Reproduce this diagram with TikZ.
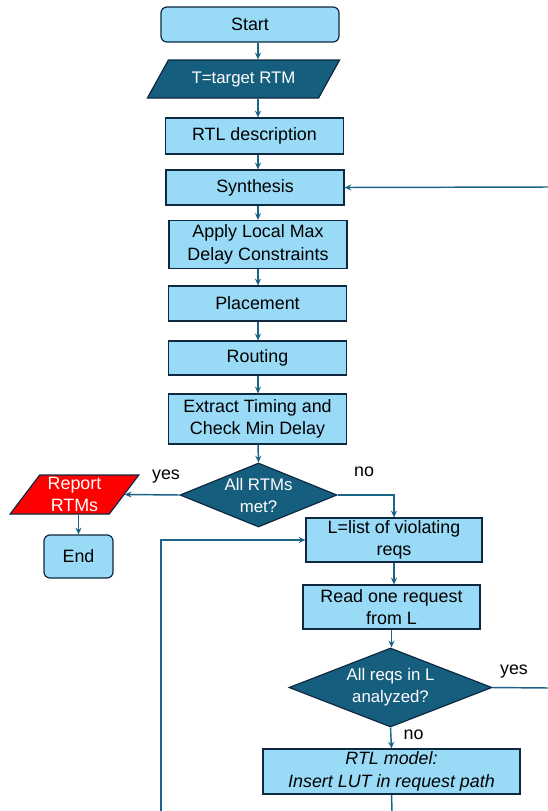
\documentclass[tikz,border=0pt]{standalone}
\usepackage{fontspec}
\setmainfont{Liberation Sans}
\usetikzlibrary{shapes.geometric,arrows.meta}
\definecolor{boxfill}{HTML}{99DAF7}
\definecolor{darkfill}{HTML}{165E7E}
\definecolor{boxline}{HTML}{0E2841}
\definecolor{flowline}{HTML}{1B6488}
\newcommand\pxu{0.75pt}

\begin{document}
\begin{tikzpicture}[x=0.75pt,y=-0.75pt,
    every node/.style={font=\fontsize{13.4}{17}\selectfont},
    box/.style={draw=boxline, line width=0.9pt, fill=boxfill, align=center, inner sep=0pt, minimum width=178*\pxu},
    term/.style={box, rounded corners=4.5pt},
    inout/.style={trapezium, trapezium stretches=true, draw=boxline, line width=0.9pt, align=center, inner sep=0pt},
    decide/.style={diamond, aspect=2.4, draw=boxline, line width=0.9pt, fill=darkfill, text=white, align=center, inner sep=0pt},
    flow/.style={draw=flowline, line width=1.1pt, -{Stealth[length=5pt,width=4.5pt]}},
    link/.style={draw=flowline, line width=1.1pt},
    lbl/.style={inner sep=0pt}]
  \useasboundingbox (0,0) rectangle (548,811); % page size of the reference

  \coordinate (col) at (258,0);
  \node[term, minimum height=35*\pxu] (start) at (250,24.5) {Start};
  \node[inout, fill=darkfill, text=white, trapezium left angle=46, trapezium right angle=134,
        minimum width=193*\pxu, minimum height=38*\pxu,
        font=\fontsize{12.6}{16}\selectfont] (tin) at (243.5,79) {T=target RTM};
  \node[box, minimum height=36*\pxu] (rtl) at (254.5,136) {RTL description};
  \node[box, minimum height=35*\pxu] (syn) at (255,187.5) {Synthesis};
  \node[box, minimum height=48*\pxu] (apply) at (258,244.5) {Apply Local Max\\Delay Constraints};
  \node[box, minimum height=35*\pxu] (place) at (257.5,303.5) {Placement};
  \node[box, minimum height=34*\pxu] (route) at (257.5,358) {Routing};
  \node[box, minimum height=50*\pxu] (extract) at (257.5,419) {Extract Timing and\\Check Min Delay};
  \node[decide, minimum width=157*\pxu, minimum height=64*\pxu,
        font=\fontsize{12.6}{16.5}\selectfont] (met) at (258.5,495) {All RTMs\\met?};
  \node[inout, fill=red, text=white, trapezium left angle=57, trapezium right angle=123,
        minimum width=129*\pxu, minimum height=39*\pxu] (report) at (74.5,494.5) {Report\\RTMs};
  \node[term, minimum width=69*\pxu, minimum height=43*\pxu] (end) at (78.5,556.5) {End};
  \node[box, minimum width=176*\pxu, minimum height=44*\pxu] (list) at (394,540) {L=list of violating\\reqs};
  \node[box, minimum width=177*\pxu, minimum height=44*\pxu] (read) at (391.5,607) {Read one request\\from L};
  \node[decide, minimum width=203*\pxu, minimum height=79*\pxu,
        font=\fontsize{12.6}{16.5}\selectfont] (anal) at (390.5,687.5) {All reqs in L\\analyzed?};
  \node[box, minimum width=257*\pxu, minimum height=45*\pxu,
        font=\fontsize{13.4}{17}\selectfont\itshape] (rtlm) at (391.5,771.5) {RTL model:\\Insert LUT in request path};

  \node[lbl] (yesmet) at (166,477) {yes};
  \node[lbl] (nomet) at (364,472) {no};
  \node[lbl] (yesanal) at (514,672) {yes};
  \node[lbl] (noanal) at (413.5,735) {no};

  \coordinate (synin) at (548,187);
  \coordinate (yesout) at (548,688);
  \coordinate (rtlmout) at (392,811);
  \coordinate (loopin) at (161,811);

  % main column
  \draw[flow] (start.south -| col) -- (tin.north -| col);
  \draw[flow] (tin.south -| col) -- (rtl.north -| col);
  \draw[flow] (rtl.south -| col) -- (syn.north -| col);
  \draw[flow] (syn.south -| col) -- (apply.north -| col);
  \draw[flow] (apply.south -| col) -- (place.north -| col);
  \draw[flow] (place.south -| col) -- (route.north -| col);
  \draw[flow] (route.south -| col) -- (extract.north -| col);
  \draw[flow] (extract.south -| col) -- (met.north);
  \draw[flow] (synin) -- (syn.east);

  % branches
  \draw[flow] (met.west) -- (report.east);
  \draw[flow] (report.south -| end.north) -- (end.north);
  \draw[flow] (met.east) -| (list.north);
  \draw[flow] (list.south) -- (list.south |- read.north);
  \draw[flow] (read.south) -- (read.south |- anal.north);
  \draw[flow] (anal.south) -- (rtlm.north);
  \draw[link] (anal.east) -- (yesout);
  \draw[link] (rtlm.south) -- (rtlmout);
  \draw[flow] (loopin) |- (list.west);
\end{tikzpicture}
\end{document}
